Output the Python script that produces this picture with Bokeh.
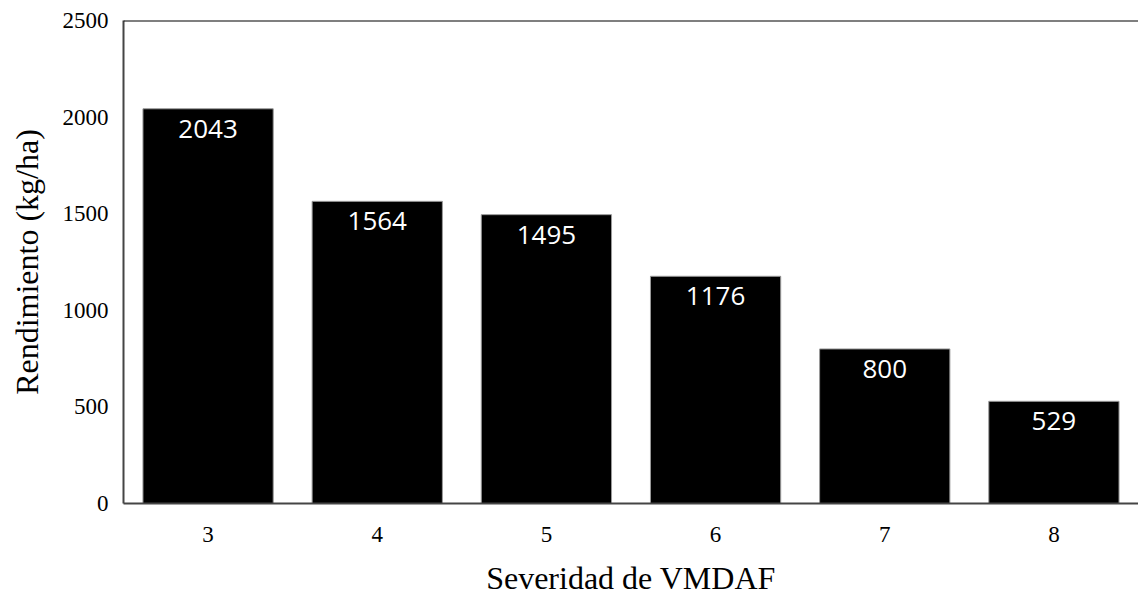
from bokeh.plotting import figure
from bokeh.models import ColumnDataSource, Range1d, FactorRange, Span, FixedTicker
from bokeh.core.properties import value
from bokeh.embed import file_html
from bokeh.resources import INLINE

categories = ["3", "4", "5", "6", "7", "8"]
yields = [2043, 1564, 1495, 1176, 800, 529]
labels = [str(v) for v in yields]
y_ticks = [0, 500, 1000, 1500, 2000, 2500]

src = ColumnDataSource(data=dict(cat=categories, val=yields, lab=labels))

p = figure(
    width=1138, height=599,
    x_range=FactorRange(*categories, range_padding=0),
    y_range=Range1d(0, 2500),
    output_backend="svg", toolbar_location=None,
    min_border_left=123, min_border_right=0, min_border_top=20, min_border_bottom=96,
)
p.outline_line_color = None
p.xgrid.grid_line_color = None
p.ygrid.grid_line_color = None
p.background_fill_color = "white"
p.border_fill_color = "white"

p.vbar(x="cat", top="val", width=0.77, source=src, fill_color="black",
       line_color="#9a9a9a", line_width=1)

p.text(x="cat", y="val", text="lab", source=src, text_color="white",
       text_font=value("Open Sans"), text_font_size="26px",
       text_align="center", text_baseline="middle", y_offset=20)

p.add_layout(Span(location=2500, dimension="width", line_color="black", line_width=2))

serif = "Liberation Serif"
for ax in (p.xaxis[0], p.yaxis[0]):
    ax.axis_line_color = "#454545"
    ax.axis_line_width = 2
    ax.major_tick_line_color = None
    ax.minor_tick_line_color = None
    ax.major_tick_out = 0
    ax.major_tick_in = 0
    ax.major_label_text_font = serif
    ax.major_label_text_font_size = "23px"
    ax.major_label_text_color = "black"
    ax.axis_label_text_font = serif
    ax.axis_label_text_font_size = "32px"
    ax.axis_label_text_font_style = "normal"
    ax.axis_label_text_color = "black"

p.yaxis[0].ticker = FixedTicker(ticks=y_ticks)
p.xaxis[0].axis_label = "Severidad de VMDAF"
p.yaxis[0].axis_label = "Rendimiento (kg/ha)"
p.xaxis[0].major_label_standoff = 23
p.xaxis[0].axis_label_standoff = 15
p.yaxis[0].major_label_standoff = 15
p.yaxis[0].axis_label_standoff = 15

open("out.html", "w").write(file_html(p, INLINE))
